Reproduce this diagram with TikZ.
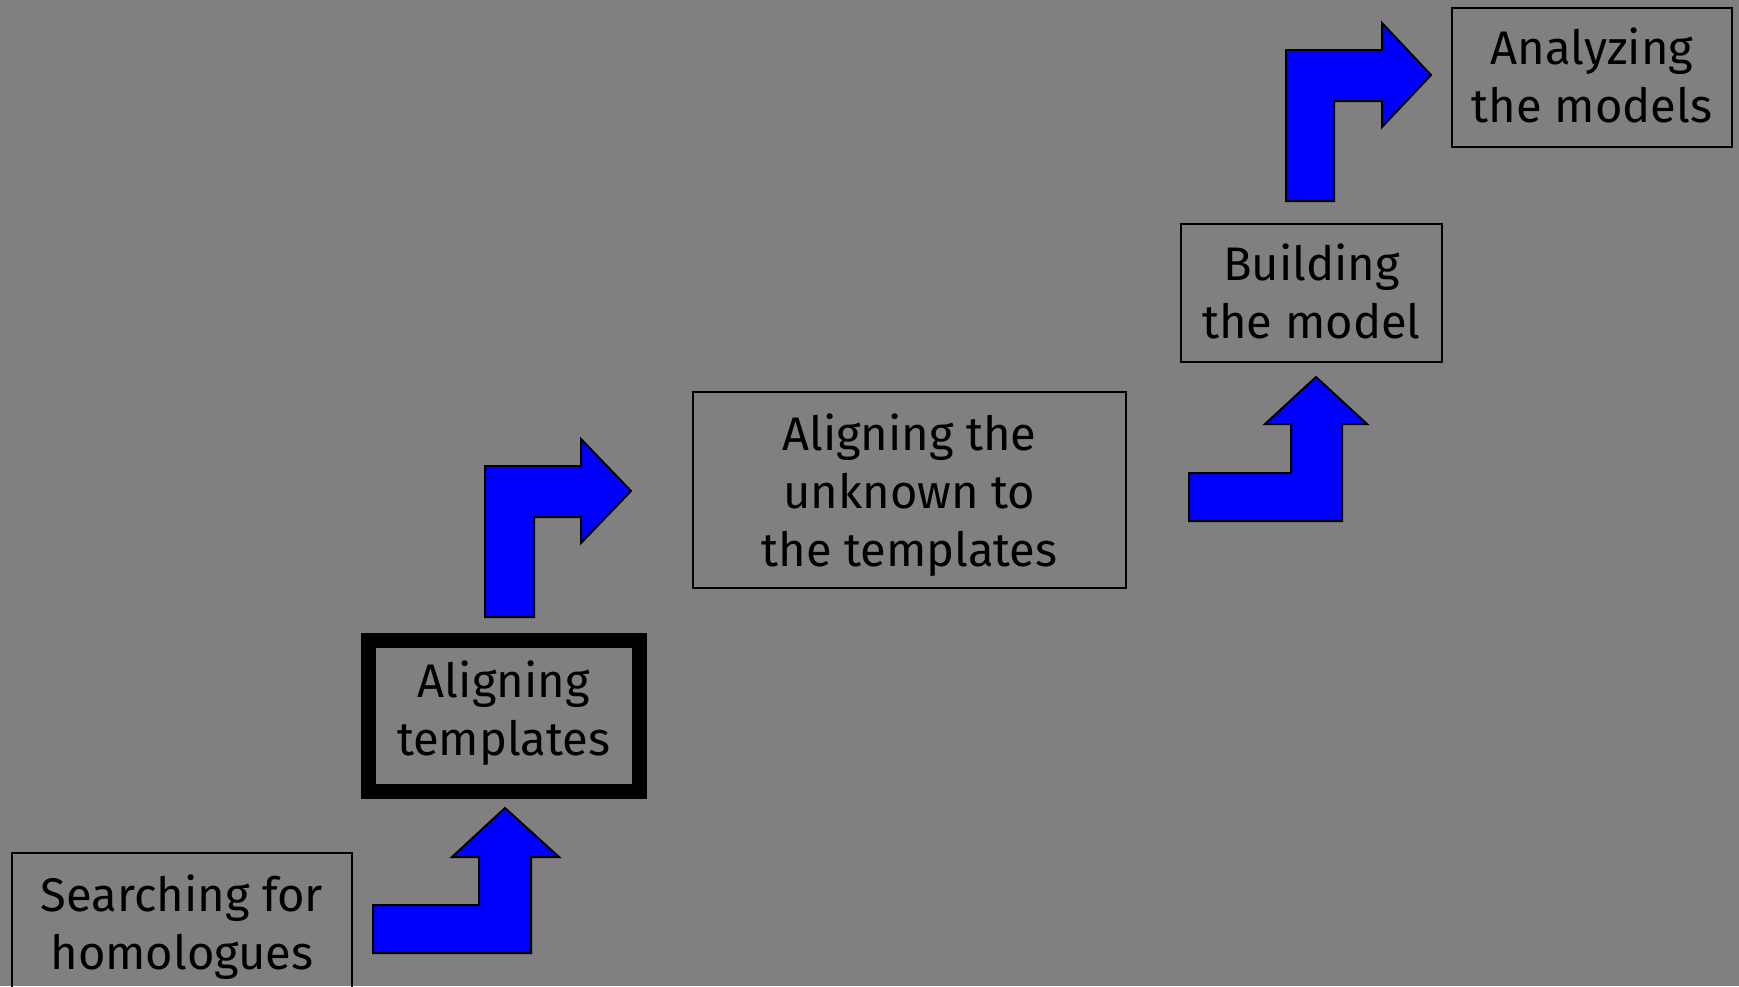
\documentclass[tikz,border=0pt]{standalone}
\usepackage{fontspec}
\setmainfont{Fira Sans}
\definecolor{slidegray}{RGB}{128,128,128}
\definecolor{arrowblue}{RGB}{0,0,255}
\tikzstyle{stage} = [draw=black, line width=0.2mm, align=center, inner sep=0pt,
  font=\fontsize{13.4}{16.5}\selectfont]
\tikzstyle{bigarrow} = [fill=arrowblue, draw=black, line width=0.2mm, line join=miter]

\begin{document}
\begin{tikzpicture}[x=0.1mm, y=-0.1mm]
        % Slide background
        \fill[slidegray] (0,0) rectangle (1739,986);
        \useasboundingbox (0,0) rectangle (1739,986);
        \clip (0,0) rectangle (1739,986);

        % Stage boxes
        \node (search) at (182,927) [stage, minimum width=34mm, minimum height=14.8mm] {Searching for\\homologues};
        \node (aligntempl) at (503.75,715.75) [stage, line width=1.5mm, minimum width=27.05mm, minimum height=15.05mm, text depth=1.6mm] {Aligning\\templates};
        \node (alignunk) at (909.5,490) [stage, minimum width=43.3mm, minimum height=19.6mm, text depth=0pt] {Aligning the\\unknown to\\the templates};
        \node (build) at (1311.5,293) [stage, minimum width=26.1mm, minimum height=13.8mm, text depth=0.45mm] {Building\\the model};
        \node (analyze) at (1592,77.5) [stage, minimum width=28mm, minimum height=13.9mm, text depth=0.45mm] {Analyzing\\the models};

        % Block arrows between stages
        \draw [bigarrow] (373,905) -- (479,905) -- (479,857) -- (452,857) -- (505,808)
                -- (559,857) -- (531,857) -- (531,953) -- (373,953) -- cycle;
        \draw [bigarrow] (485,617) -- (485,466) -- (581,466) -- (581,439) -- (631,491)
                -- (581,543) -- (581,517) -- (534,517) -- (534,617) -- cycle;
        \draw [bigarrow] (1189,521) -- (1189,473) -- (1291,473) -- (1291,424) -- (1265,424)
                -- (1316,377) -- (1367,424) -- (1342,424) -- (1342,521) -- cycle;
        \draw [bigarrow] (1286,201) -- (1286,50) -- (1382,50) -- (1382,23) -- (1431,75)
                -- (1382,127) -- (1382,101) -- (1334,101) -- (1334,201) -- cycle;
\end{tikzpicture}
\end{document}
